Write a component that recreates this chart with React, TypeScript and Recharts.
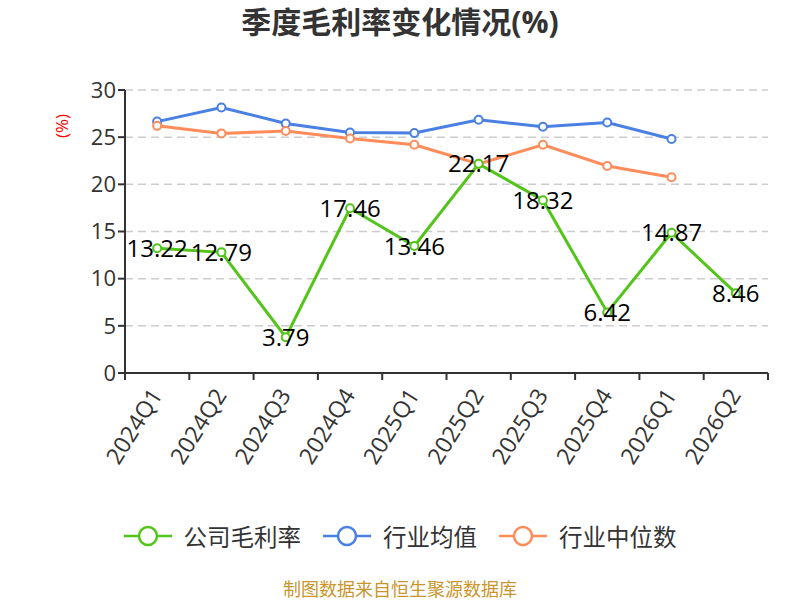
import React from 'react';
import { LineChart, Line, XAxis, YAxis, CartesianGrid, LabelList, Label } from 'recharts';

const quarters = ['2024Q1', '2024Q2', '2024Q3', '2024Q4', '2025Q1', '2025Q2', '2025Q3', '2025Q4', '2026Q1', '2026Q2'];
const companyMargin = [13.22, 12.79, 3.79, 17.46, 13.46, 22.17, 18.32, 6.42, 14.87, 8.46];
const industryAvg = [26.65, 28.15, 26.45, 25.5, 25.45, 26.85, 26.1, 26.55, 24.8, null];
const industryMedian = [26.2, 25.4, 25.65, 24.85, 24.2, 22.15, 24.2, 21.95, 20.75, null];
const yTicks = [0, 5, 10, 15, 20, 25, 30];

const GREEN = '#52c41a';
const BLUE = '#4a80e3';
const ORANGE = '#ff8c5a';
const FONT = "'Open Sans', 'Noto Sans CJK SC', sans-serif";

const W = 800;
const H = 600;
const MARGIN = { top: 90, right: 32, left: 65, bottom: 127 };
const Y_AXIS_W = 60;
const HALF_BAND = (W - MARGIN.left - MARGIN.right - Y_AXIS_W) / quarters.length / 2;

const data = quarters.map((q, i) => ({
  name: q,
  company: companyMargin[i],
  avg: industryAvg[i],
  median: industryMedian[i],
}));

const legendItems = [
  { name: '公司毛利率', color: GREEN },
  { name: '行业均值', color: BLUE },
  { name: '行业中位数', color: ORANGE },
];

function XTick(props: any) {
  const { x, y, payload, index } = props;
  const last = index === quarters.length - 1;
  const tx = x + 6;
  const ty = y + 14;
  return (
    <g>
      <line x1={x - HALF_BAND} x2={x - HALF_BAND} y1={y - 8} y2={y - 1} stroke="#333" strokeWidth={2} />
      {last && <line x1={x + HALF_BAND} x2={x + HALF_BAND} y1={y - 8} y2={y - 1} stroke="#333" strokeWidth={2} />}
      <text x={tx} y={ty} textAnchor="end" fontSize={23} fill="#333" fontFamily={FONT} transform={`rotate(-58 ${tx} ${ty})`}>
        {payload.value}
      </text>
    </g>
  );
}

export default function App() {
  return (
    <div style={{ position: 'absolute', left: 0, top: 0, width: W, height: H, background: '#fff', fontFamily: FONT, overflow: 'hidden' }}>
      <div style={{ position: 'absolute', top: 2, width: W, textAlign: 'center', fontSize: 30, lineHeight: '40px', fontWeight: 'bold', color: '#333' }}>
        季度毛利率变化情况(%)
      </div>
      <LineChart width={W} height={H} data={data} margin={MARGIN}>
        <CartesianGrid vertical={false} stroke="#ccc" strokeDasharray="8 5" strokeWidth={1.5} />
        <XAxis
          dataKey="name"
          scale="band"
          height={100}
          axisLine={{ stroke: '#333', strokeWidth: 2 }}
          tickLine={false}
          tick={<XTick />}
          interval={0}
        />
        <YAxis
          width={Y_AXIS_W}
          domain={[0, 30]}
          ticks={yTicks}
          axisLine={{ stroke: '#333', strokeWidth: 2 }}
          tickLine={{ stroke: '#333', strokeWidth: 2 }}
          tickSize={7}
          tick={{ fontSize: 22, fill: '#333', fontFamily: FONT }}
        >
          <Label
            content={(p: any) => {
              const vb = p.viewBox;
              const cx = vb.x - 2;
              const cy = vb.y + 36;
              return (
                <text x={cx} y={cy} fill="red" fontSize={17} textAnchor="middle" dominantBaseline="middle" transform={`rotate(-90 ${cx} ${cy})`} fontFamily={FONT}>
                  (%)
                </text>
              );
            }}
          />
        </YAxis>
        <Line type="linear" dataKey="avg" stroke={BLUE} strokeWidth={3} dot={{ r: 4, fill: '#fff', stroke: BLUE, strokeWidth: 2 }} isAnimationActive={false} />
        <Line type="linear" dataKey="median" stroke={ORANGE} strokeWidth={3} dot={{ r: 4, fill: '#fff', stroke: ORANGE, strokeWidth: 2 }} isAnimationActive={false} />
        <Line type="linear" dataKey="company" stroke={GREEN} strokeWidth={3} dot={{ r: 4, fill: '#fff', stroke: GREEN, strokeWidth: 2 }} isAnimationActive={false}>
          <LabelList dataKey="company" position="center" fontSize={24} fill="#000" fontFamily={FONT} />
        </Line>
      </LineChart>
      <div style={{ position: 'absolute', top: 519, left: 0, width: W, display: 'flex', justifyContent: 'center', gap: 22 }}>
        {legendItems.map((it) => (
          <div key={it.name} style={{ display: 'flex', alignItems: 'center', gap: 12 }}>
            <svg width={48} height={24}>
              <line x1={0} x2={48} y1={12} y2={12} stroke={it.color} strokeWidth={2.5} />
              <circle cx={24} cy={12} r={9} fill="#fff" stroke={it.color} strokeWidth={2.5} />
            </svg>
            <span style={{ fontSize: 23.5, color: '#333' }}>{it.name}</span>
          </div>
        ))}
      </div>
      <div style={{ position: 'absolute', top: 579, width: W, textAlign: 'center', fontSize: 18, lineHeight: '20px', color: '#c8962d' }}>
        制图数据来自恒生聚源数据库
      </div>
    </div>
  );
}
